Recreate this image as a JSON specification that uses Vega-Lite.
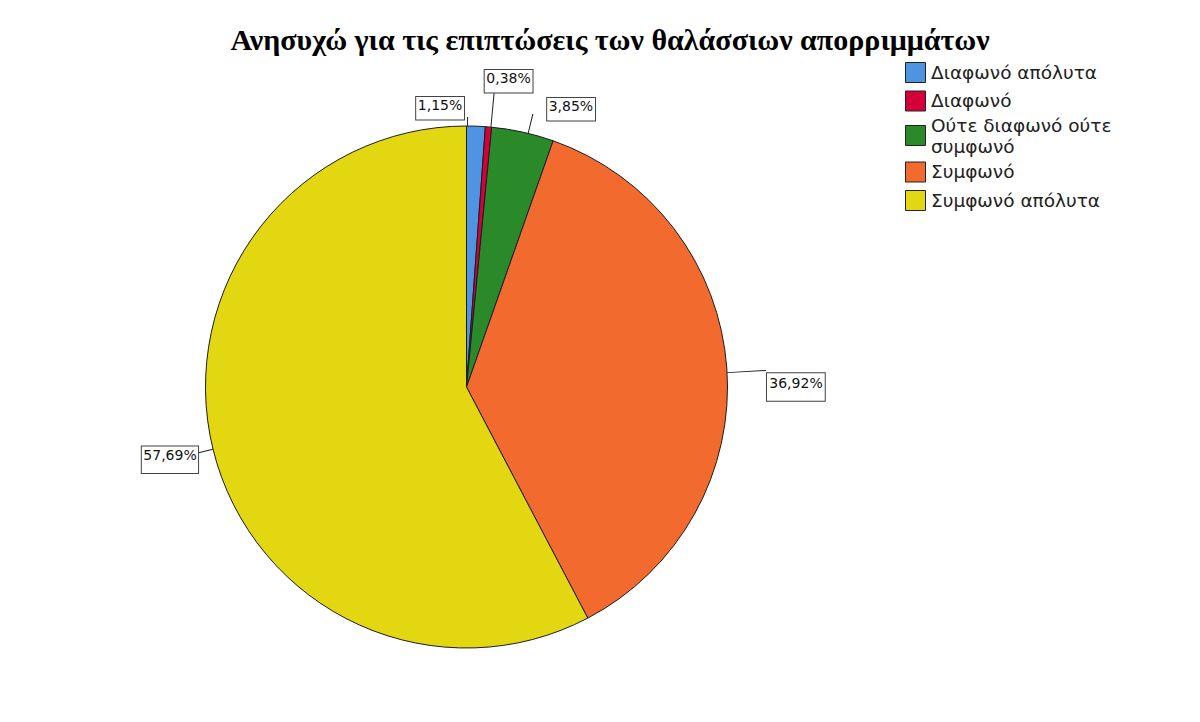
{
  "$schema": "https://vega.github.io/schema/vega-lite/v6.json",
  "width": 933,
  "height": 634,
  "autosize": "none",
  "padding": {"left": 0, "top": 70, "right": 267, "bottom": 18},
  "background": "white",
  "config": {"view": {"stroke": null}},
  "title": {
    "text": "Ανησυχώ για τις επιπτώσεις των θαλάσσιων απορριμμάτων",
    "font": "Liberation Serif",
    "fontSize": 30,
    "fontWeight": "bold",
    "color": "#000000",
    "anchor": "middle",
    "frame": "group",
    "dx": 143.5,
    "dy": 29,
    "offset": 20
  },
  "data": {
    "values": [
      {"cat": "Διαφωνό απόλυτα", "n": 3, "idx": 1, "label": "1,15%"},
      {"cat": "Διαφωνό", "n": 1, "idx": 2, "label": "0,38%"},
      {"cat": "Ούτε διαφωνό ούτε συμφωνό", "n": 10, "idx": 3, "label": "3,85%"},
      {"cat": "Συμφωνό", "n": 96, "idx": 4, "label": "36,92%"},
      {"cat": "Συμφωνό απόλυτα", "n": 150, "idx": 5, "label": "57,69%"}
    ]
  },
  "transform": [
    {"stack": "n", "groupby": [], "sort": [{"field": "idx", "order": "ascending"}], "as": ["s0", "s1"]}
  ],
  "layer": [
    {
      "mark": {"type": "arc", "outerRadius": 261, "stroke": "#1c1c1c", "strokeWidth": 1},
      "encoding": {
        "theta": {"field": "s0", "type": "quantitative", "stack": null, "scale": {"domain": [0, 260]}},
        "theta2": {"field": "s1"},
        "color": {
          "field": "cat",
          "type": "nominal",
          "scale": {
            "domain": ["Διαφωνό απόλυτα", "Διαφωνό", "Ούτε διαφωνό ούτε συμφωνό", "Συμφωνό", "Συμφωνό απόλυτα"],
            "range": ["#4f93e3", "#d5003a", "#2a8a2a", "#f26a2e", "#e2d710"]
          },
          "legend": {
            "orient": "none",
            "legendX": 905,
            "legendY": -8,
            "title": null,
            "padding": 0,
            "symbolType": "square",
            "symbolSize": 400,
            "symbolStrokeColor": "#222222",
            "symbolStrokeWidth": 1,
            "symbolOffset": 0,
            "labelFont": "DejaVu Sans",
            "labelFontSize": 18.5,
            "labelColor": "#222222",
            "labelOffset": 5,
            "labelLimit": 400,
            "rowPadding": 3.5,
            "labelExpr": "datum.label == 'Ούτε διαφωνό ούτε συμφωνό' ? ['Ούτε διαφωνό ούτε', 'συμφωνό'] : datum.label",
            "encode": {
              "labels": {
                "update": {
                  "lineHeight": {"value": 20.5},
                  "dy": {"signal": "datum.label == 'Ούτε διαφωνό ούτε συμφωνό' ? -9.5 : 0"}
                }
              }
            }
          }
        }
      }
    },
    {
      "transform": [{"filter": "datum.idx == 1"}],
      "layer": [
        {
          "mark": {"type": "arc", "outerRadius": 270, "innerRadius": 261, "thetaOffset": 0.0021, "theta2Offset": 0.0059, "fill": "#222222"},
          "encoding": {"theta": {"field": "s0", "type": "quantitative", "stack": null, "scale": {"domain": [0, 260]}}, "theta2": {"field": "s0"}}
        },
        {
          "mark": {"type": "text", "text": "▬", "font": "DejaVu Sans", "fontSize": 64, "fill": "#ffffff", "stroke": "#444444", "strokeWidth": 1, "radius": 282, "thetaOffset": -0.094, "align": "center", "baseline": "middle"},
          "encoding": {"theta": {"field": "s0", "type": "quantitative", "stack": null, "scale": {"domain": [0, 260]}}}
        },
        {
          "mark": {"type": "text", "font": "DejaVu Sans", "fontSize": 14, "fill": "#111111", "radius": 282, "thetaOffset": -0.094, "align": "center", "baseline": "middle"},
          "encoding": {"theta": {"field": "s0", "type": "quantitative", "stack": null, "scale": {"domain": [0, 260]}}, "text": {"field": "label"}}
        }
      ]
    },
    {
      "transform": [{"filter": "datum.idx == 2"}],
      "layer": [
        {
          "mark": {"type": "arc", "outerRadius": 298, "innerRadius": 261, "thetaOffset": 0.0193, "theta2Offset": 0.0229, "fill": "#222222"},
          "encoding": {"theta": {"field": "s0", "type": "quantitative", "stack": null, "scale": {"domain": [0, 260]}}, "theta2": {"field": "s0"}}
        },
        {
          "mark": {"type": "text", "text": "▬", "font": "DejaVu Sans", "fontSize": 64, "fill": "#ffffff", "stroke": "#444444", "strokeWidth": 1, "radius": 311, "thetaOffset": 0.063, "align": "center", "baseline": "middle"},
          "encoding": {"theta": {"field": "s0", "type": "quantitative", "stack": null, "scale": {"domain": [0, 260]}}}
        },
        {
          "mark": {"type": "text", "font": "DejaVu Sans", "fontSize": 14, "fill": "#111111", "radius": 311, "thetaOffset": 0.063, "align": "center", "baseline": "middle"},
          "encoding": {"theta": {"field": "s0", "type": "quantitative", "stack": null, "scale": {"domain": [0, 260]}}, "text": {"field": "label"}}
        }
      ]
    },
    {
      "transform": [{"filter": "datum.idx == 3"}],
      "layer": [
        {
          "mark": {"type": "arc", "outerRadius": 281, "innerRadius": 261, "thetaOffset": 0.14, "theta2Offset": 0.1437, "fill": "#222222"},
          "encoding": {"theta": {"field": "s0", "type": "quantitative", "stack": null, "scale": {"domain": [0, 260]}}, "theta2": {"field": "s0"}}
        },
        {
          "mark": {"type": "text", "text": "▬", "font": "DejaVu Sans", "fontSize": 64, "fill": "#ffffff", "stroke": "#444444", "strokeWidth": 1, "radius": 299, "thetaOffset": 0.2599, "align": "center", "baseline": "middle"},
          "encoding": {"theta": {"field": "s0", "type": "quantitative", "stack": null, "scale": {"domain": [0, 260]}}}
        },
        {
          "mark": {"type": "text", "font": "DejaVu Sans", "fontSize": 14, "fill": "#111111", "radius": 299, "thetaOffset": 0.2599, "align": "center", "baseline": "middle"},
          "encoding": {"theta": {"field": "s0", "type": "quantitative", "stack": null, "scale": {"domain": [0, 260]}}, "text": {"field": "label"}}
        }
      ]
    },
    {
      "transform": [{"filter": "datum.idx == 4"}],
      "layer": [
        {
          "mark": {"type": "arc", "outerRadius": 300, "innerRadius": 261, "thetaOffset": 1.17545, "theta2Offset": 1.17895, "fill": "#222222"},
          "encoding": {"theta": {"field": "s0", "type": "quantitative", "stack": null, "scale": {"domain": [0, 260]}}, "theta2": {"field": "s0"}}
        },
        {
          "mark": {"type": "text", "text": "▬", "font": "DejaVu Sans", "fontSize": 77, "fill": "#ffffff", "stroke": "#444444", "strokeWidth": 1, "radius": 329.5, "thetaOffset": 1.2234, "align": "center", "baseline": "middle"},
          "encoding": {"theta": {"field": "s0", "type": "quantitative", "stack": null, "scale": {"domain": [0, 260]}}}
        },
        {
          "mark": {"type": "text", "font": "DejaVu Sans", "fontSize": 14, "fill": "#111111", "radius": 329.5, "thetaOffset": 1.2234, "align": "center", "baseline": "middle"},
          "encoding": {"theta": {"field": "s0", "type": "quantitative", "stack": null, "scale": {"domain": [0, 260]}}, "text": {"field": "label"}}
        }
      ]
    },
    {
      "transform": [{"filter": "datum.idx == 5"}],
      "layer": [
        {
          "mark": {"type": "arc", "outerRadius": 277, "innerRadius": 261, "thetaOffset": 1.81135, "theta2Offset": 1.81505, "fill": "#222222"},
          "encoding": {"theta": {"field": "s0", "type": "quantitative", "stack": null, "scale": {"domain": [0, 260]}}, "theta2": {"field": "s0"}}
        },
        {
          "mark": {"type": "text", "text": "▬", "font": "DejaVu Sans", "fontSize": 75, "fill": "#ffffff", "stroke": "#444444", "strokeWidth": 1, "radius": 304.4, "thetaOffset": 1.8254, "align": "center", "baseline": "middle"},
          "encoding": {"theta": {"field": "s0", "type": "quantitative", "stack": null, "scale": {"domain": [0, 260]}}}
        },
        {
          "mark": {"type": "text", "font": "DejaVu Sans", "fontSize": 14, "fill": "#111111", "radius": 304.4, "thetaOffset": 1.8254, "align": "center", "baseline": "middle"},
          "encoding": {"theta": {"field": "s0", "type": "quantitative", "stack": null, "scale": {"domain": [0, 260]}}, "text": {"field": "label"}}
        }
      ]
    }
  ]
}
